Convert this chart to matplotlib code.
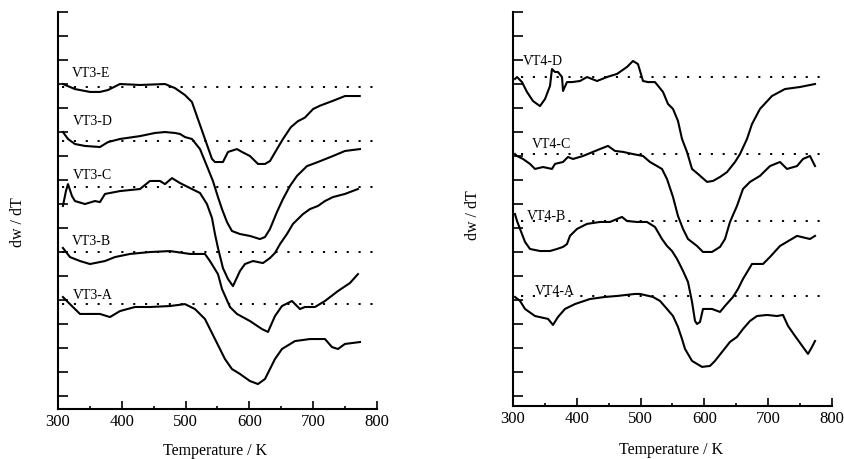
import matplotlib
matplotlib.use("Agg")
import matplotlib.pyplot as plt
from matplotlib.ticker import MultipleLocator

plt.rcParams['font.family'] = ['Liberation Serif', 'DejaVu Serif']

# temperature in K, dw/dT in arbitrary units (one unit = one y tick)
vt3_e_t = [307.8, 326.6, 350.2, 365.8, 378.4, 397.2, 428.5, 467.7, 483.4, 499.1, 510, 519.4,
           530.4, 541.4, 546.1, 558.6, 566.5, 580.6, 588.4, 600.9, 613.5, 624.5, 632.3, 643.3,
           652.7, 665, 676, 687, 700, 711, 731, 750, 773]
vt3_e_y = [13.0, 12.79, 12.67, 12.67, 12.75, 13.0, 12.96, 13.0, 12.83, 12.54, 12.25, 11.54,
           10.71, 9.88, 9.75, 9.75, 10.17, 10.29, 10.17, 10.0, 9.67, 9.67, 9.79, 10.29,
           10.71, 11.2, 11.45, 11.6, 11.96, 12.1, 12.3, 12.5, 12.5]

vt3_d_t = [307.8, 315.7, 326.6, 342.3, 365.8, 378.4, 397.2, 428.5, 452, 467.7, 483.4, 491.2,
           499.1, 510, 522.6, 533.5, 542.9, 550.8, 557.1, 564.9, 572.7, 585.3, 600.9, 616.6,
           624.5, 632.3, 643.3, 652.7, 663.6, 674.6, 690.3, 707.5, 731, 749.8, 773.4]
vt3_d_y = [11.0, 10.71, 10.5, 10.42, 10.375, 10.58, 10.71, 10.83, 10.96, 11.0, 10.96, 10.92,
           10.79, 10.71, 10.29, 9.58, 8.96, 8.29, 7.79, 7.25, 6.875, 6.75, 6.67, 6.54,
           6.625, 6.96, 7.67, 8.21, 8.75, 9.17, 9.58, 9.75, 10.0, 10.21, 10.29]

vt3_c_t = [307.8, 312.5, 315.7, 322, 326.6, 342.3, 358, 365.8, 373.7, 397.2, 428.5, 444.2,
           459.9, 467.7, 478.7, 491.2, 510, 522.6, 533.5, 541.4, 546.1, 550.8, 558.6, 566.5,
           574.3, 585.3, 593.1, 605.6, 621.3, 632.3, 640.1, 648, 658.9, 668.3, 684, 695,
           707.5, 718.5, 731, 749.8, 770.2]
vt3_c_y = [7.92, 8.54, 8.83, 8.33, 8.125, 8.0, 8.125, 8.08, 8.42, 8.54, 8.625, 8.96,
           8.96, 8.83, 9.08, 8.875, 8.625, 8.46, 8.0, 7.42, 6.75, 6.17, 5.33, 4.875,
           4.58, 5.21, 5.5, 5.625, 5.54, 5.75, 5.96, 6.33, 6.75, 7.17, 7.58, 7.79,
           7.92, 8.125, 8.29, 8.42, 8.625]

vt3_b_t = [307.8, 318.8, 334.5, 350.2, 373.7, 389.3, 412.9, 444.2, 475.5, 506.9, 530.4, 538.2,
           550.8, 557.1, 569.6, 580.6, 600.9, 619.8, 629.2, 640.1, 651.1, 666.8, 679.3, 687.1,
           702.8, 718.5, 738.9, 757.7, 770.2]
vt3_b_y = [6.17, 5.79, 5.625, 5.5, 5.625, 5.79, 5.92, 6.0, 6.04, 5.92, 5.92, 5.625,
           5.08, 4.46, 3.71, 3.42, 3.125, 2.79, 2.67, 3.33, 3.75, 3.96, 3.625, 3.71,
           3.71, 3.96, 4.375, 4.71, 5.08]

vt3_a_t = [307.8, 318.8, 334.5, 365.8, 381.5, 397.2, 420.7, 444.2, 475.5, 499.1, 514.7, 530.4,
           546.1, 561.8, 572.7, 585.3, 600.9, 613.5, 624.5, 640.1, 651.1, 671.5, 695, 718.5,
           729.5, 738.9, 749.8, 773.4]
vt3_a_y = [4.125, 3.83, 3.42, 3.42, 3.29, 3.54, 3.71, 3.71, 3.75, 3.83, 3.625, 3.21,
           2.375, 1.54, 1.125, 0.92, 0.625, 0.5, 0.71, 1.54, 1.96, 2.29, 2.375, 2.375,
           2.04, 1.96, 2.17, 2.25]

vt4_d_t = [303.1, 306.3, 314.1, 321.9, 331.3, 342.3, 350.2, 358, 361.1, 365.8, 370.5, 376.8,
           378.4, 384.6, 392.5, 405, 416, 431.7, 447.3, 463, 478.7, 488.1, 495.9, 503.8,
           511.6, 522.6, 535.1, 542.9, 550.8, 558.6, 564.9, 572.7, 580.6, 590, 604.1, 613.5,
           624.5, 635.5, 648, 655.8, 666.8, 674.6, 687.1, 705.9, 726.3, 749.8, 773.4]
vt4_d_y = [13.21, 13.29, 13.08, 12.67, 12.29, 12.08, 12.375, 12.92, 13.625, 13.5, 13.5, 13.29,
           12.71, 13.08, 13.08, 13.125, 13.29, 13.125, 13.29, 13.42, 13.71, 13.96, 13.83, 13.125,
           13.08, 13.08, 12.67, 12.17, 11.96, 11.46, 10.71, 10.17, 9.46, 9.25, 8.92, 8.96,
           9.125, 9.33, 9.75, 10.08, 10.71, 11.33, 11.96, 12.5, 12.79, 12.875, 13.0]

vt4_c_t = [303.1, 306.3, 315.7, 326.6, 334.5, 347, 361.1, 365.8, 378.4, 386.2, 394, 409.7,
           425.4, 436.4, 448.9, 459.9, 472.4, 488.1, 503.8, 514.7, 533.5, 541.4, 550.8, 558.6,
           566.5, 574.3, 588.4, 597.8, 611.9, 624.5, 632.3, 640.1, 651.1, 660.5, 671.5, 687.1,
           702.8, 718.5, 729.5, 745.2, 754.5, 765.5, 773.4]
vt4_c_y = [10.08, 10.0, 9.875, 9.67, 9.46, 9.54, 9.46, 9.67, 9.75, 9.96, 9.875, 10.0,
           10.17, 10.29, 10.42, 10.21, 10.17, 10.08, 10.0, 9.75, 9.46, 9.04, 8.29, 7.5,
           6.96, 6.54, 6.25, 6.0, 6.0, 6.21, 6.54, 7.25, 7.92, 8.625, 8.92, 9.17,
           9.58, 9.75, 9.46, 9.58, 9.875, 10.0, 9.58]

vt4_b_t = [303.1, 306.3, 311, 318.8, 326.6, 342.3, 358, 369, 378.4, 384.6, 389.3, 400.3,
           416, 436.4, 452, 470.8, 478.7, 494.4, 510, 522.6, 533.5, 541.4, 549.2, 557.1,
           566.5, 574.3, 580.6, 585.3, 588.4, 593.1, 597.8, 611.9, 624.5, 632.3, 644.8, 652.7,
           660.5, 674.6, 691.9, 702.8, 718.5, 745.2, 765.5, 773.4]
vt4_b_y = [7.58, 7.29, 6.96, 6.42, 6.125, 6.04, 6.04, 6.125, 6.21, 6.33, 6.67, 6.96,
           7.17, 7.25, 7.25, 7.46, 7.29, 7.25, 7.25, 7.04, 6.54, 6.25, 6.04, 5.71,
           5.21, 4.75, 3.92, 3.125, 3.0, 3.08, 3.625, 3.625, 3.5, 3.75, 4.125, 4.46,
           4.875, 5.5, 5.5, 5.79, 6.25, 6.67, 6.54, 6.67]

vt4_a_t = [303.1, 311, 318.8, 334.5, 354.9, 362.7, 370.5, 381.5, 397.2, 420.7, 444.2, 464.6,
           491.2, 499.1, 519.4, 530.4, 541.4, 550.8, 558.6, 564.9, 569.6, 580.6, 596.3, 608.8,
           616.6, 627.6, 640.1, 651.1, 660.5, 671.5, 682.5, 698.1, 713.8, 723.2, 731, 742,
           754.5, 762.4, 768.6, 773.4]
vt4_a_y = [4.125, 3.96, 3.625, 3.33, 3.21, 2.96, 3.29, 3.625, 3.83, 4.04, 4.125, 4.17,
           4.25, 4.25, 4.125, 3.96, 3.625, 3.33, 2.875, 2.375, 1.96, 1.46, 1.21, 1.25,
           1.46, 1.83, 2.25, 2.46, 2.79, 3.125, 3.33, 3.375, 3.33, 3.375, 2.92, 2.5,
           2.04, 1.75, 2.04, 2.29]

vt3_labels = ['VT3-E', 'VT3-D', 'VT3-C', 'VT3-B', 'VT3-A']
vt3_baselines = [12.875, 10.625, 8.71, 6.0, 3.83]
vt3_label_y = [13.5, 11.46, 9.25, 6.46, 4.25]

vt4_labels = ['VT4-D', 'VT4-C', 'VT4-B', 'VT4-A']
vt4_baselines = [13.29, 10.08, 7.29, 4.17]
vt4_label_y = [14.0, 10.54, 7.5, 4.375]


def draw_panel(ax, curves, labels, baselines, label_y, label_x, dot_span):
    for (t, y), base, name, ly, lx in zip(curves, baselines, labels, label_y, label_x):
        ax.plot(dot_span, [base, base], color='black', lw=1.4,
                linestyle=(0, (1.1, 5.0)))
        ax.plot(t, y, color='black', lw=1.5)
        ax.text(lx, ly, name, fontsize=10, ha='left', va='center')

    ax.set_xlim(300, 800)
    ax.set_xticks([300, 400, 500, 600, 700, 800])
    ax.xaxis.set_minor_locator(MultipleLocator(50))
    ax.set_yticks(range(0, 17))
    ax.set_yticklabels([])
    for side in ['top', 'right']:
        ax.spines[side].set_visible(False)
    for side in ['left', 'bottom']:
        ax.spines[side].set_linewidth(1.5)
    ax.tick_params(axis='x', which='major', direction='in', length=6, width=1.2,
                   labelsize=12, pad=3)
    ax.tick_params(axis='x', which='minor', direction='in', length=2.5, width=1.2)
    ax.tick_params(axis='y', which='major', direction='in', length=7.5, width=1.2)


fig = plt.figure(figsize=(8.45, 4.6), dpi=100)
ax1 = fig.add_axes([0.0686, 0.1087, 0.3775, 0.8630])
ax2 = fig.add_axes([0.6071, 0.1152, 0.3775, 0.8565])

draw_panel(ax1,
           [(vt3_e_t, vt3_e_y), (vt3_d_t, vt3_d_y), (vt3_c_t, vt3_c_y),
            (vt3_b_t, vt3_b_y), (vt3_a_t, vt3_a_y)],
           vt3_labels, vt3_baselines, vt3_label_y,
           [322, 323, 323, 322, 323], [306, 800])
ax1.set_ylim(-0.54, 16)

draw_panel(ax2,
           [(vt4_d_t, vt4_d_y), (vt4_c_t, vt4_c_y), (vt4_b_t, vt4_b_y),
            (vt4_a_t, vt4_a_y)],
           vt4_labels, vt4_baselines, vt4_label_y,
           [316, 330, 322, 334], [312, 786])
ax2.set_ylim(-0.42, 16)

ax1.text(-0.125, 0.474, 'dw / dT', rotation=90, fontsize=11.5,
         ha='center', va='center', transform=ax1.transAxes)
ax2.text(-0.125, 0.487, 'dw / dT', rotation=90, fontsize=11.5,
         ha='center', va='center', transform=ax2.transAxes)
ax1.text(0.492, -0.103, 'Temperature / K', fontsize=11.5,
         ha='center', va='center', transform=ax1.transAxes)
ax2.text(0.495, -0.109, 'Temperature / K', fontsize=11.5,
         ha='center', va='center', transform=ax2.transAxes)

fig.savefig('out.png', dpi=100)
